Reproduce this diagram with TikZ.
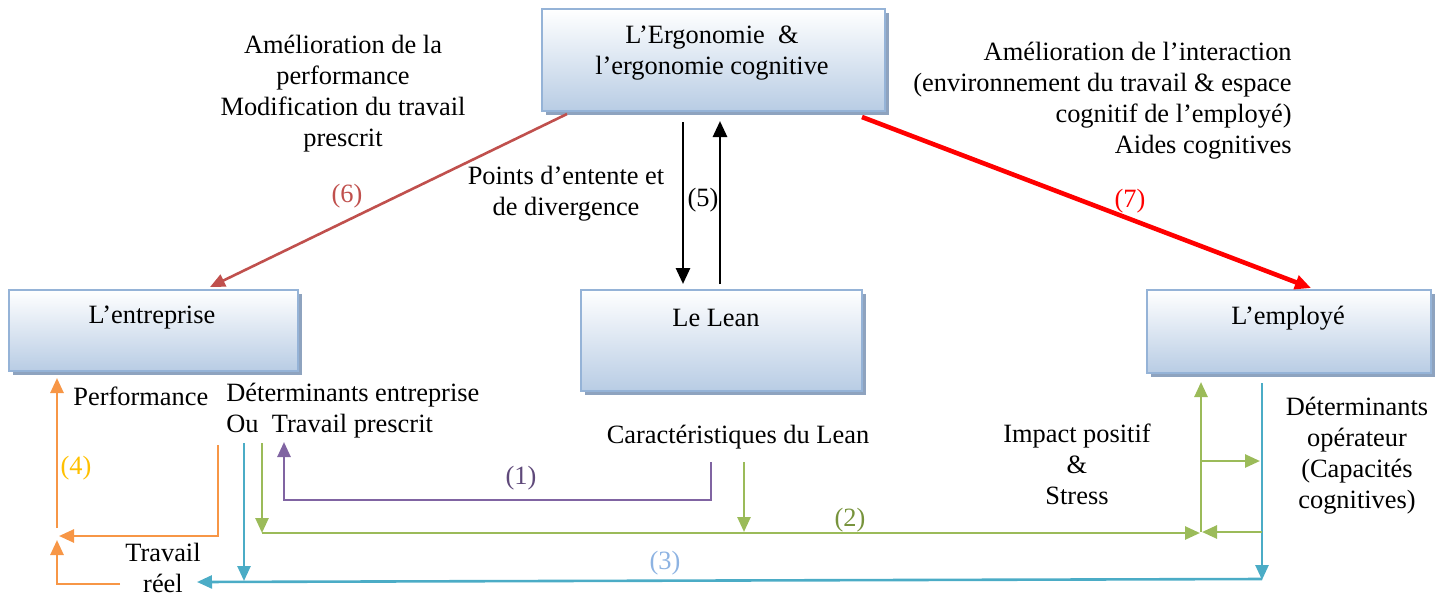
\documentclass[tikz,border=0pt]{standalone}
\usepackage{fontspec}
\setmainfont{Liberation Serif}
\usetikzlibrary{arrows.meta,shadows}
\definecolor{boxblue}{HTML}{B8CCE4}
\definecolor{boxline}{HTML}{95B3D7}
\definecolor{boxshadow}{HTML}{8EA3BF}
\definecolor{csix}{HTML}{C0504D}
\definecolor{corange}{HTML}{F79646}
\definecolor{cblue}{HTML}{4BACC6}
\definecolor{cgreen}{HTML}{9BBB59}
\definecolor{cpurple}{HTML}{8064A2}
\definecolor{lfour}{HTML}{FFC000}
\definecolor{lone}{HTML}{5F497A}
\definecolor{ltwo}{HTML}{77933C}
\definecolor{lthree}{HTML}{8DB3E2}
\begin{document}
\begin{tikzpicture}[x=0.5pt,y=-0.5pt,
  txt/.style={font=\fontsize{13.2pt}{15.5pt}\selectfont, align=center, inner sep=0pt},
  box/.style={draw=boxline, line width=1.1pt, top color=white, bottom color=boxblue,
    anchor=north west, inner sep=0pt,
    drop shadow={shadow xshift=2pt, shadow yshift=-2pt, fill=boxshadow, opacity=1}},
  tip/.style={-{Triangle[length=7.5pt,width=6.5pt]}},
  conn/.style={line width=1.3pt}]
\useasboundingbox (0,0) rectangle (1447,596);

% boxes
\node[box, minimum width=171.5pt, minimum height=51pt] (ergo) at (541,8) {};
\node[box, minimum width=144.5pt, minimum height=40.5pt] (entr) at (8,289) {};
\node[box, minimum width=140.5pt, minimum height=50.5pt] (lean) at (580,289) {};
\node[box, minimum width=142pt, minimum height=41.5pt] (empl) at (1146,289) {};

\node[txt] (ergot) at (712,53) {L’Ergonomie\ \ \&\\l’ergonomie cognitive};
\node[txt] (entrt) at (152,318) {L’entreprise};
\node[txt] (leant) at (716,318) {Le Lean};
\node[txt] (emplt) at (1288,318) {L’employé};

% texts
\node[txt] (t1) at (343,94) {Amélioration de la\\performance\\Modification du travail\\prescrit};
\node[txt, align=right, anchor=east] (t2) at (1292,101) {Amélioration de l’interaction\\(environnement du travail \& espace\\cognitif de l’employé)\\Aides cognitives};
\node[txt] (t3) at (566,194) {Points d’entente et\\de divergence};
\node[txt, anchor=west] (t4) at (73,396) {Performance};
\node[txt, align=left, anchor=west] (t5) at (226,411) {Déterminants entreprise\\Ou\ \ Travail prescrit};
\node[txt] (t6) at (738,437) {Caractéristiques du Lean};
\node[txt] (t7) at (1077,464) {Impact positif\\\&\\Stress};
\node[txt] (t8) at (1357,456) {Déterminants\\opérateur\\(Capacités\\cognitives)};
\node[txt] (t9) at (163,568) {Travail\\réel};

% numbered labels
\node[txt, text=csix] (l6) at (347,196) {(6)};
\node[txt, text=red] (l7) at (1130,201) {(7)};
\node[txt] (l5) at (703,200) {(5)};
\node[txt, text=lfour] (l4) at (76,468) {(4)};
\node[txt, text=lone] (l1) at (521,478) {(1)};
\node[txt, text=ltwo] (l2) at (850,520) {(2)};
\node[txt, text=lthree] (l3) at (665,563) {(3)};

% coordinates
\coordinate (a6s) at (567,114);
\coordinate (a6e) at (210,287);
\coordinate (a7s) at (862,117);
\coordinate (a7e) at (1311,288);
\coordinate (b1s) at (683,122);
\coordinate (b1e) at (683,284);
\coordinate (b2s) at (720,284);
\coordinate (b2e) at (720,121);

% (6), (7), (5)
\draw[conn, csix, tip] (a6s) -- (a6e);
\draw[line width=2.3pt, red, -{Triangle[length=8pt,width=7pt]}] (a7s) -- (a7e);
\draw[line width=1.4pt, black, -{Triangle[length=8pt,width=7pt]}] (b1s) -- (b1e);
\draw[line width=1.4pt, black, -{Triangle[length=8pt,width=7pt]}] (b2s) -- (b2e);

% orange (4)
\coordinate (o1) at (57,528);
\coordinate (o2) at (57,378);
\coordinate (o3) at (218,445);
\coordinate (o4) at (218,536);
\coordinate (o5) at (59,536);
\coordinate (o6) at (120,584);
\coordinate (o7) at (57,584);
\coordinate (o8) at (57,540);
\draw[conn, corange, tip] (o1) -- (o2);
\draw[conn, corange, tip] (o3) -- (o4) -- (o5);
\draw[conn, corange, tip] (o6) -- (o7) -- (o8);

% blue (3)
\coordinate (u1) at (1262,383);
\coordinate (u2) at (1262,580);
\coordinate (u3) at (1262,579);
\coordinate (u4) at (197,582);
\coordinate (u5) at (244,443);
\coordinate (u6) at (244,581);
\draw[conn, cblue, tip] (u1) -- (u2);
\draw[conn, cblue, tip] (u3) -- (u4);
\draw[conn, cblue, tip] (u5) -- (u6);

% green (2)
\coordinate (g1) at (262,443);
\coordinate (g2) at (262,533);
\coordinate (g3) at (262,533);
\coordinate (g4) at (1200,533);
\coordinate (g5) at (744,462);
\coordinate (g6) at (744,532);
\coordinate (g7) at (1262,532);
\coordinate (g8) at (1202,532);
\coordinate (g9) at (1201,532);
\coordinate (g10) at (1201,382);
\coordinate (g11) at (1201,461);
\coordinate (g12) at (1260,461);
\draw[conn, cgreen, tip] (g1) -- (g2);
\draw[conn, cgreen, tip] (g3) -- (g4);
\draw[conn, cgreen, tip] (g5) -- (g6);
\draw[conn, cgreen, tip] (g7) -- (g8);
\draw[conn, cgreen, tip] (g9) -- (g10);
\draw[conn, cgreen, tip] (g11) -- (g12);

% purple (1)
\coordinate (p1) at (711,462);
\coordinate (p2) at (711,500);
\coordinate (p3) at (284,500);
\coordinate (p4) at (284,442);
\draw[conn, cpurple, tip] (p1) -- (p2) -- (p3) -- (p4);
\end{tikzpicture}
\end{document}
